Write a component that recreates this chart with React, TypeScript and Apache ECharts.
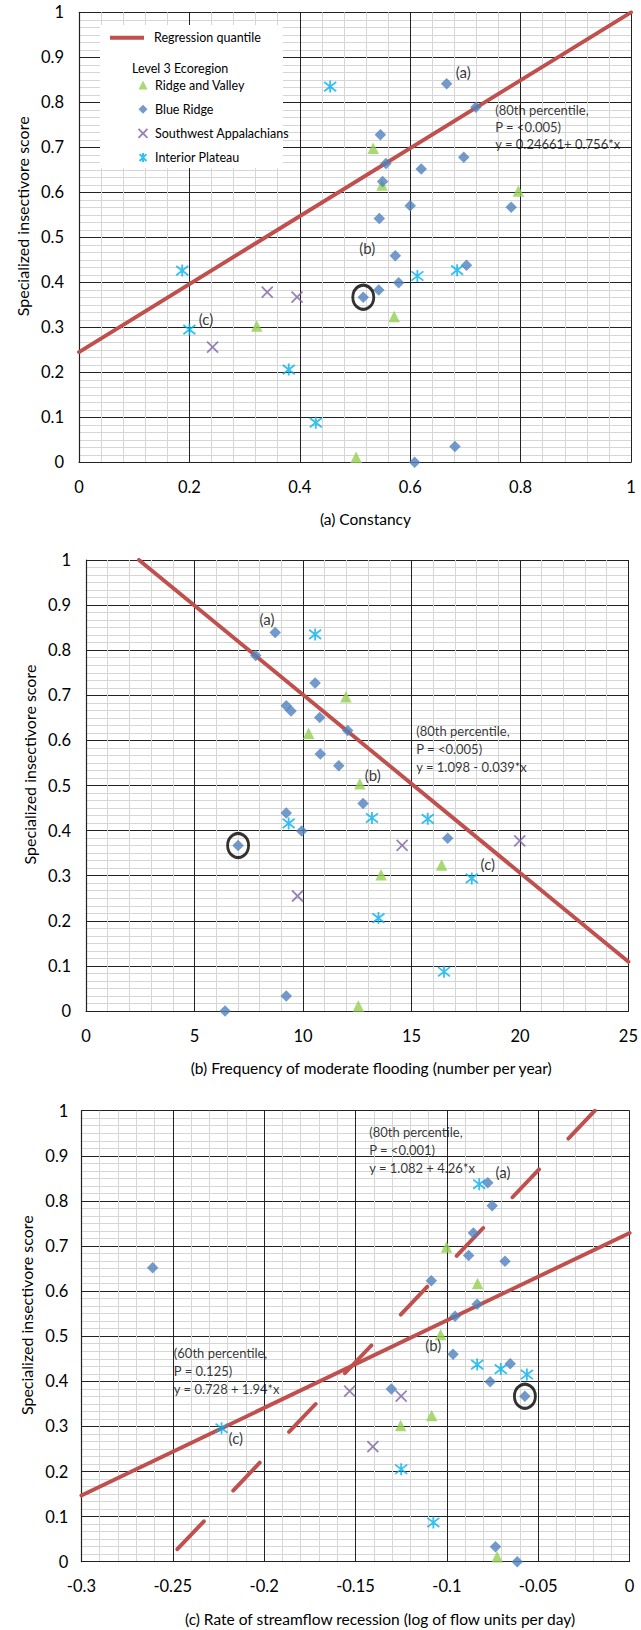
import React, { useEffect, useRef } from "react";
import * as echarts from "echarts";

const FONT = "Lato";
const REG_NAME = "Regression quantile";
const ECOREGIONS = ["Ridge and Valley", "Blue Ridge", "Southwest Appalachians", "Interior Plateau"];
const COLORS = ["#92D050", "#4F81BD", "#8064A2", "#00B0F0"];
const REG_COLOR = "#C0504D";
const Y_NAME = "Specialized insectivore score";
const POINT_LABELS = ["(a)", "(b)", "(c)"];

// (a) Constancy
const constRidgeValley = [[0.533, 0.698], [0.549, 0.616], [0.796, 0.603], [0.571, 0.324], [0.322, 0.303], [0.502, 0.011]];
const constBlueRidge = [[0.666, 0.841], [0.719, 0.789], [0.546, 0.728], [0.697, 0.678], [0.556, 0.664], [0.620, 0.652], [0.550, 0.624], [0.600, 0.570], [0.783, 0.567], [0.544, 0.542], [0.573, 0.459], [0.702, 0.438], [0.579, 0.399], [0.543, 0.383], [0.515, 0.367], [0.681, 0.035], [0.608, 0.0]];
const constSWApp = [[0.341, 0.378], [0.395, 0.367], [0.242, 0.256]];
const constInterior = [[0.455, 0.835], [0.187, 0.426], [0.685, 0.427], [0.613, 0.414], [0.200, 0.295], [0.380, 0.206], [0.429, 0.088]];
const constCircled = [[0.515, 0.367]];
const constRegression = [[0, 0.245], [1, 1.0]];
const constLabelPos = [[0.696, 0.868], [0.522, 0.477], [0.230, 0.318]];
const constStats = "(80th percentile,\nP = <0.005)\ny = 0.24661+ 0.756*x";
const constStatsPos = [0.754, 0.745];
const constXTitle = "(a) Constancy";

// (b) Frequency of moderate flooding
const floodRidgeValley = [[11.98, 0.697], [10.26, 0.616], [12.62, 0.504], [16.39, 0.324], [13.6, 0.302], [12.55, 0.011]];
const floodBlueRidge = [[8.72, 0.839], [7.82, 0.788], [10.56, 0.727], [9.23, 0.677], [9.45, 0.665], [10.77, 0.651], [12.06, 0.622], [10.80, 0.570], [11.65, 0.544], [12.77, 0.460], [9.23, 0.439], [9.94, 0.399], [16.67, 0.383], [7.01, 0.367], [9.23, 0.033], [6.41, 0.0]];
const floodSWApp = [[14.57, 0.367], [19.99, 0.377], [9.75, 0.255]];
const floodInterior = [[10.56, 0.835], [13.18, 0.428], [15.75, 0.426], [9.34, 0.416], [17.78, 0.294], [13.48, 0.206], [16.5, 0.087]];
const floodCircled = [[7.01, 0.367]];
const floodRegression = [[2.44, 1.0], [25, 0.109]];
const floodLabelPos = [[8.34, 0.869], [13.22, 0.523], [18.52, 0.325]];
const floodStats = "(80th percentile,\nP = <0.005)\ny = 1.098 - 0.039*x";
const floodStatsPos = [15.22, 0.581];
const floodXTitle = "(b) Frequency of moderate flooding (number per year)";

// (c) Rate of streamflow recession
const recRidgeValley = [[-0.1002, 0.698], [-0.0832, 0.617], [-0.1034, 0.504], [-0.1083, 0.324], [-0.1253, 0.302], [-0.0725, 0.011]];
const recBlueRidge = [[-0.261, 0.652], [-0.0776, 0.840], [-0.0752, 0.789], [-0.0855, 0.729], [-0.0881, 0.679], [-0.0682, 0.666], [-0.1085, 0.623], [-0.0834, 0.571], [-0.0955, 0.544], [-0.0966, 0.460], [-0.0653, 0.439], [-0.0763, 0.399], [-0.1304, 0.383], [-0.0573, 0.367], [-0.0734, 0.033], [-0.0615, 0.0]];
const recSWApp = [[-0.1532, 0.378], [-0.125, 0.367], [-0.1405, 0.255]];
const recInterior = [[-0.0823, 0.837], [-0.0834, 0.437], [-0.0705, 0.427], [-0.0562, 0.415], [-0.2233, 0.296], [-0.125, 0.205], [-0.1074, 0.087]];
const recCircled = [[-0.0573, 0.367]];
const recRegression60 = [[-0.3, 0.147], [0, 0.729]];
const recRegression80 = [[-0.019, 1.0], [-0.254, 0.0]];
const recLabelPos = [[-0.0693, 0.863], [-0.1074, 0.48], [-0.2155, 0.275]];
const recStats80 = "(80th percentile,\nP = <0.001)\ny = 1.082 + 4.26*x";
const recStats80Pos = [-0.1425, 0.913];
const recStats60 = "(60th percentile,\nP = 0.125)\ny = 0.728 + 1.94*x";
const recStats60Pos = [-0.2494, 0.4235];
const recXTitle = "(c) Rate of streamflow recession (log of flow units per day)";

const X_PATH = "path://M0,0L10,10M10,0L0,10";
const AST_PATH = "path://M0,0L10,10M10,0L0,10M5,-1.5L5,11.5";

const SYMBOLS = ["triangle", "diamond", X_PATH, AST_PATH];
const SIZES = [11.5, 11.5, 11, 12];

function scatterSeries(idx: number, sets: number[][][]) {
  return sets.map((data, i) => ({
    type: "scatter",
    name: ECOREGIONS[i],
    xAxisIndex: idx,
    yAxisIndex: idx,
    data,
    symbol: SYMBOLS[i],
    symbolSize: SIZES[i],
    z: 4,
    itemStyle:
      i >= 2
        ? { color: COLORS[i], borderColor: COLORS[i], borderWidth: 1.8 }
        : { color: COLORS[i] },
    emphasis: { disabled: true },
  }));
}

function circleSeries(idx: number, data: number[][]) {
  return {
    type: "scatter",
    name: "circled",
    xAxisIndex: idx,
    yAxisIndex: idx,
    data,
    symbol: "circle",
    symbolSize: [21, 24],
    z: 5,
    itemStyle: { color: "rgba(0,0,0,0)", borderColor: "#000", borderWidth: 3 },
    emphasis: { disabled: true },
  };
}

function lineSeries(idx: number, data: number[][], dashed?: boolean) {
  return {
    type: "line",
    name: REG_NAME,
    xAxisIndex: idx,
    yAxisIndex: idx,
    data,
    symbol: "none",
    showSymbol: false,
    z: 3,
    lineStyle: {
      color: REG_COLOR,
      width: 3.9,
      cap: "round",
      type: dashed ? [38.5, 42.5] : "solid",
    },
    itemStyle: { color: REG_COLOR },
    emphasis: { disabled: true },
  };
}

function labelSeries(idx: number, pos: number[][]) {
  return {
    type: "scatter",
    name: "labels",
    xAxisIndex: idx,
    yAxisIndex: idx,
    symbolSize: 0,
    z: 6,
    silent: true,
    data: pos.map((p, i) => ({ value: p, name: POINT_LABELS[i] })),
    label: {
      show: true,
      position: "inside",
      formatter: "{b}",
      fontFamily: FONT,
      fontSize: 15,
      color: "#000",
    },
  };
}

function statsSeries(idx: number, text: string, pos: number[], lh: number) {
  return {
    type: "scatter",
    name: "stats",
    xAxisIndex: idx,
    yAxisIndex: idx,
    symbolSize: 0,
    z: 6,
    silent: true,
    data: [{ value: pos, name: text }],
    label: {
      show: true,
      position: [0, 0],
      align: "left",
      verticalAlign: "middle",
      formatter: "{b}",
      fontFamily: FONT,
      fontSize: 13,
      lineHeight: lh,
      color: "#000",
    },
  };
}

function xAxis(idx: number, min: number, max: number, interval: number, name: string, shift: number) {
  return {
    type: "value",
    gridIndex: idx,
    min,
    max,
    interval,
    name,
    nameLocation: "middle",
    nameGap: 49,
    nameTextStyle: { fontFamily: FONT, fontSize: 15.5, color: "#000", padding: [0, 0, 0, shift * 2] },
    axisLine: { show: true, onZero: false, lineStyle: { color: "#222", width: 1.2 } },
    axisTick: { show: false },
    axisLabel: { fontFamily: FONT, fontSize: 16.5, color: "#000", margin: 16 },
    splitLine: { show: true, lineStyle: { color: "#222", width: 1 } },
    minorTick: { show: false, splitNumber: 5 },
    minorSplitLine: { show: true, lineStyle: { color: "#d6d6d6", width: 1 } },
  };
}

function yAxis(idx: number, labelMargin: number) {
  return {
    type: "value",
    gridIndex: idx,
    min: 0,
    max: 1,
    interval: 0.1,
    name: Y_NAME,
    nameLocation: "middle",
    nameRotate: 90,
    nameGap: 47,
    nameTextStyle: { fontFamily: FONT, fontSize: 16, color: "#000", padding: [0, 0, 0, 42] },
    axisLine: { show: true, onZero: false, lineStyle: { color: "#222", width: 1.2 } },
    axisTick: { show: false },
    axisLabel: { fontFamily: FONT, fontSize: 16.5, color: "#000", margin: labelMargin },
    splitLine: { show: true, lineStyle: { color: "#222", width: 1 } },
    minorTick: { show: false, splitNumber: 6 },
    minorSplitLine: { show: true, lineStyle: { color: "#d6d6d6", width: 1 } },
  };
}

export default function App() {
  const ref = useRef<HTMLDivElement>(null);

  useEffect(() => {
    document.body.style.margin = "0";
    if (!ref.current) return;
    const chart = echarts.init(ref.current, null, { renderer: "svg" });

    const option = {
      animation: false,
      backgroundColor: "#fff",
      grid: [
        { left: 79, top: 12.3, width: 552, height: 450 },
        { left: 86, top: 560, width: 545, height: 451 },
        { left: 81.4, top: 1110.7, width: 548.2, height: 451 },
      ],
      xAxis: [
        xAxis(0, 0, 1, 0.2, constXTitle, 10.5),
        xAxis(1, 0, 25, 5, floodXTitle, 14),
        xAxis(2, -0.3, 0, 0.05, recXTitle, 24.5),
      ],
      yAxis: [yAxis(0, 15), yAxis(1, 15), yAxis(2, 13)],
      legend: [
        {
          data: [{ name: REG_NAME, icon: "rect" }],
          orient: "vertical",
          left: 110,
          top: 30.7,
          padding: 0,
          itemWidth: 34,
          itemHeight: 4,
          selectedMode: false,
          z: 20,
          textStyle: { fontFamily: FONT, fontSize: 12.5, color: "#000", lineHeight: 14, padding: [0, 0, 0, 5] },
        },
        {
          data: ECOREGIONS.map((n) => ({ name: n })),
          orient: "vertical",
          left: 137.5,
          top: 78,
          padding: 0,
          itemWidth: 9,
          itemHeight: 9,
          itemGap: 10.2,
          selectedMode: false,
          z: 20,
          textStyle: { fontFamily: FONT, fontSize: 12.5, color: "#000", lineHeight: 14, padding: [0, 0, 0, 2.5] },
        },
      ],
      graphic: [
        {
          type: "rect",
          z: 10,
          shape: { x: 100, y: 25, width: 183, height: 143 },
          style: { fill: "#fff" },
          silent: true,
        },
        {
          type: "text",
          z: 20,
          x: 132,
          y: 68,
          silent: true,
          style: {
            text: "Level 3 Ecoregion",
            fontFamily: FONT,
            fontSize: 12.5,
            fill: "#000",
            align: "left",
            verticalAlign: "middle",
          },
        },
      ],
      series: [
        lineSeries(0, constRegression),
        ...scatterSeries(0, [constRidgeValley, constBlueRidge, constSWApp, constInterior]),
        circleSeries(0, constCircled),
        labelSeries(0, constLabelPos),
        statsSeries(0, constStats, constStatsPos, 16.7),

        lineSeries(1, floodRegression),
        ...scatterSeries(1, [floodRidgeValley, floodBlueRidge, floodSWApp, floodInterior]),
        circleSeries(1, floodCircled),
        labelSeries(1, floodLabelPos),
        statsSeries(1, floodStats, floodStatsPos, 18),

        lineSeries(2, recRegression60),
        lineSeries(2, recRegression80, true),
        ...scatterSeries(2, [recRidgeValley, recBlueRidge, recSWApp, recInterior]),
        circleSeries(2, recCircled),
        labelSeries(2, recLabelPos),
        statsSeries(2, recStats80, recStats80Pos, 18),
        statsSeries(2, recStats60, recStats60Pos, 18),
      ],
    };

    chart.setOption(option as any);
    return () => chart.dispose();
  }, []);

  return (
    <div
      ref={ref}
      style={{ position: "absolute", left: 0, top: 0, width: 641, height: 1630, background: "#fff" }}
    />
  );
}
